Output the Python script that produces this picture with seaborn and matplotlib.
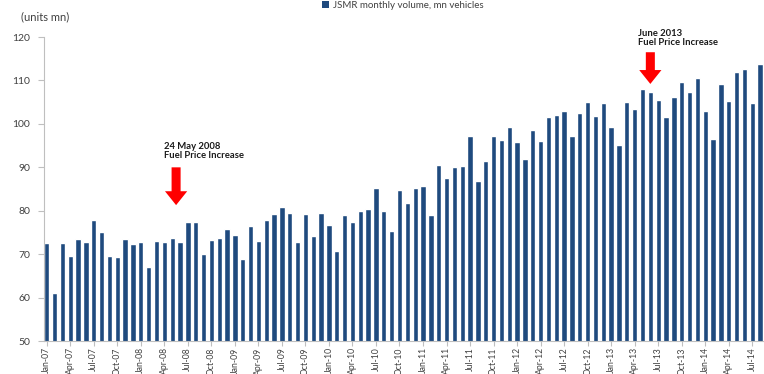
import numpy as np
import pandas as pd
import matplotlib
matplotlib.use("Agg")
import matplotlib.pyplot as plt
from matplotlib.patches import Patch
import seaborn as sns

# Monthly toll-road traffic volume, Jan-07 .. Aug-14 (units mn)
volume_2007 = [72.5, 61.0, 72.5, 69.6, 73.6, 72.8, 77.8, 75.2, 69.5, 69.4, 73.5, 72.4]
volume_2008 = [72.8, 67.0, 73.1, 72.9, 73.8, 72.8, 77.5, 77.5, 70.1, 73.3, 73.7, 75.8]
volume_2009 = [74.5, 69.0, 76.4, 73.1, 77.9, 79.2, 80.8, 79.4, 72.8, 79.2, 74.2, 79.5]
volume_2010 = [76.7, 70.8, 79.1, 77.5, 80.0, 80.5, 85.2, 80.0, 75.4, 84.8, 81.7, 85.2]
volume_2011 = [85.7, 79.0, 90.6, 87.5, 90.1, 90.4, 97.2, 86.8, 91.5, 97.1, 96.2, 99.4]
volume_2012 = [95.8, 92.0, 98.7, 96.1, 101.6, 102.1, 102.9, 97.3, 102.4, 105.0, 101.9, 104.8]
volume_2013 = [99.3, 95.1, 105.1, 103.5, 108.0, 107.3, 105.6, 101.5, 106.2, 109.7, 107.3, 110.5]
volume_2014 = [103.0, 96.5, 109.3, 105.3, 111.9, 112.7, 104.8, 113.9]

years = ["07", "08", "09", "10", "11", "12", "13", "14"]
month_names = ["Jan", "Feb", "Mar", "Apr", "May", "Jun",
               "Jul", "Aug", "Sep", "Oct", "Nov", "Dec"]

values = (volume_2007 + volume_2008 + volume_2009 + volume_2010 +
          volume_2011 + volume_2012 + volume_2013 + volume_2014)
months = [f"{m}-{y}" for y in years for m in month_names][:len(values)]

events = [
    {"month": "May-08", "label": "24 May 2008\nFuel Price Increase", "offset": 0.5},
    {"month": "Jun-13", "label": "June 2013\nFuel Price Increase", "offset": 0.0},
]

df = pd.DataFrame({"month": months, "volume": values})

bar_color = "#1F4A7E"
axis_grey = "#BFBFBF"
text_grey = "#404040"

sns.set_style("white")
plt.rcParams["font.family"] = ["Lato", "DejaVu Sans"]

fig = plt.figure(figsize=(7.64, 3.74), dpi=100)
ax = fig.add_axes([0.0576, 0.088, 0.9424, 0.813])

sns.barplot(data=df, x="month", y="volume", order=months, color=bar_color,
            saturation=1, width=0.68, ax=ax)

ax.set_ylim(50, 120)
ax.set_yticks(np.arange(50, 121, 10))
ax.set_xlim(-0.35, len(months) - 0.5)

tick_pos = list(range(0, len(months), 3))
ax.set_xticks(tick_pos)
ax.set_xticklabels([months[i] for i in tick_pos], rotation=90)
ax.set_xlabel("")
ax.set_ylabel("")

ax.tick_params(axis="x", labelsize=6.2, colors=text_grey, length=3.5,
               width=0.8, color=axis_grey, direction="out", bottom=True, pad=1)
ax.tick_params(axis="y", labelsize=7.5, colors=text_grey, length=4,
               width=0.8, color=axis_grey, direction="out", left=True, pad=6)

for side in ("top", "right"):
    ax.spines[side].set_visible(False)
for side in ("left", "bottom"):
    ax.spines[side].set_color(axis_grey)
    ax.spines[side].set_linewidth(0.8)

# Event annotations: bold caption and a red block arrow pointing down
for ev, tail, tip, txt_y in zip(events, [90.0, 116.5], [81.3, 109.2], [91.6, 117.8]):
    xi = months.index(ev["month"]) + ev["offset"]
    ax.annotate("", xy=(xi, tip), xytext=(xi, tail),
                arrowprops=dict(arrowstyle="simple,head_width=1.6,head_length=1.0,tail_width=0.65",
                                color="#FF0000", lw=0, shrinkA=0, shrinkB=0),
                annotation_clip=False)
    ax.text(xi - 1.6, txt_y, ev["label"], fontsize=6.8, fontweight="bold",
            color="#1A1A1A", ha="left", va="bottom", linespacing=1.0)

fig.text(0.027, 0.955, "(units mn)", fontsize=8, color=text_grey,
         ha="left", va="center")

handle = Patch(facecolor=bar_color, edgecolor="none",
               label="JSMR monthly volume, mn vehicles")
fig.legend(handles=[handle], loc="center", bbox_to_anchor=(0.527, 0.985),
           frameon=False, fontsize=7, handlelength=0.7, handleheight=0.7,
           handletextpad=0.4, labelcolor=text_grey, borderaxespad=0)

fig.savefig("out.png", dpi=100)
